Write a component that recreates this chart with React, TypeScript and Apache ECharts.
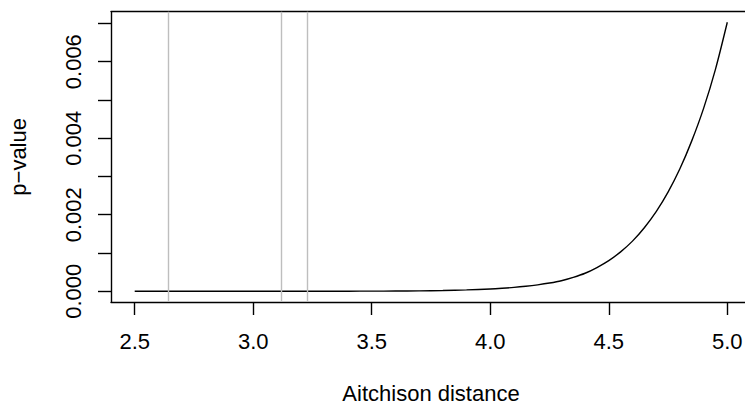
import React, { useEffect, useRef } from "react";
import * as echarts from "echarts";

const distances = [
  2.5, 2.6, 2.7, 2.8, 2.9, 3.0, 3.1, 3.2, 3.3, 3.4, 3.5, 3.6, 3.7, 3.8, 3.9,
  4.0, 4.05, 4.1, 4.15, 4.2, 4.25, 4.3, 4.35, 4.4, 4.45, 4.5, 4.55, 4.6, 4.65,
  4.7, 4.75, 4.8, 4.85, 4.9, 4.95, 5.0,
];
const pValues = [
  0, 0, 0, 0, 0, 0.00000005, 0.0000001, 0.0000003, 0.0000007, 0.0000015,
  0.000003, 0.000006, 0.000011, 0.00002, 0.000035, 0.00006, 0.000078, 0.0001,
  0.00013, 0.000168, 0.000215, 0.000275, 0.000362, 0.00047, 0.00062, 0.0008,
  0.00103, 0.00131, 0.00166, 0.00208, 0.00259, 0.0032, 0.00393, 0.00478,
  0.0058, 0.00703,
];
const refLines = [2.6435, 3.1215, 3.231];
const xTicks = [2.5, 3.0, 3.5, 4.0, 4.5, 5.0];
const yTicks = [0, 0.001, 0.002, 0.003, 0.004, 0.005, 0.006, 0.007];
const yLabels = [0, 0.002, 0.004, 0.006];

const FONT = "'Liberation Sans', Arial, Helvetica, sans-serif";
const AXIS_LINE = { show: true, onZero: false, lineStyle: { color: "#000", width: 1.4 } };

export default function App() {
  const ref = useRef<HTMLDivElement>(null);
  useEffect(() => {
    if (!ref.current) return;
    const chart = echarts.init(ref.current, undefined, { renderer: "svg" });
    chart.setOption({
      animation: false,
      backgroundColor: "#ffffff",
      grid: {
        left: 111,
        top: 11.7,
        width: 640,
        height: 290.3,
        containLabel: false,
        outerBoundsMode: "none",
        show: false,
      },
      xAxis: [
        {
          type: "value",
          min: 2.4,
          max: 5.1,
          position: "bottom",
          name: "Aitchison distance",
          nameLocation: "middle",
          nameGap: 80,
          nameTextStyle: { color: "#000", fontSize: 22, fontFamily: FONT },
          axisLine: AXIS_LINE,
          axisTick: {
            show: true,
            inside: false,
            length: 13,
            customValues: xTicks,
            lineStyle: { color: "#000", width: 1.4 },
          },
          axisLabel: {
            show: true,
            customValues: xTicks,
            margin: 28,
            color: "#000",
            fontSize: 22,
            fontFamily: FONT,
            formatter: (v: number) => v.toFixed(1),
          },
          splitLine: { show: false },
        },
        {
          type: "value",
          min: 2.4,
          max: 5.1,
          position: "top",
          axisLine: AXIS_LINE,
          axisTick: { show: false },
          axisLabel: { show: false },
          splitLine: { show: false },
        },
      ],
      yAxis: {
        type: "value",
        min: -0.000281,
        max: 0.007306,
        name: "p−value",
        nameLocation: "middle",
        nameRotate: 90,
        nameGap: 82,
        nameTextStyle: { color: "#000", fontSize: 22, fontFamily: FONT },
        axisLine: AXIS_LINE,
        axisTick: {
          show: true,
          inside: false,
          length: 13,
          customValues: yTicks,
          lineStyle: { color: "#000", width: 1.4 },
        },
        axisLabel: {
          show: true,
          customValues: yLabels,
          rotate: 90,
          margin: 27,
          color: "#000",
          fontSize: 22,
          fontFamily: FONT,
          formatter: (v: number) => v.toFixed(3),
        },
        splitLine: { show: false },
      },
      series: [
        {
          type: "line",
          xAxisIndex: 0,
          data: distances.map((d, i) => [d, pValues[i]]),
          showSymbol: false,
          smooth: 0.3,
          lineStyle: { color: "#000", width: 1.4 },
          itemStyle: { color: "#000" },
          z: 2,
        },
        {
          type: "line",
          xAxisIndex: 0,
          data: [],
          z: 3,
          markLine: {
            silent: true,
            symbol: ["none", "none"],
            label: { show: false },
            lineStyle: { color: "#BEBEBE", width: 1.4, type: "solid" },
            data: refLines.map((v) => ({ xAxis: v })),
          },
        },
      ],
    });
    return () => chart.dispose();
  }, []);
  return (
    <div
      style={{
        position: "fixed",
        left: 0,
        top: 0,
        width: 745,
        height: 405,
        overflow: "hidden",
        background: "#fff",
      }}
    >
      <div ref={ref} style={{ width: 770, height: 405 }} />
    </div>
  );
}
